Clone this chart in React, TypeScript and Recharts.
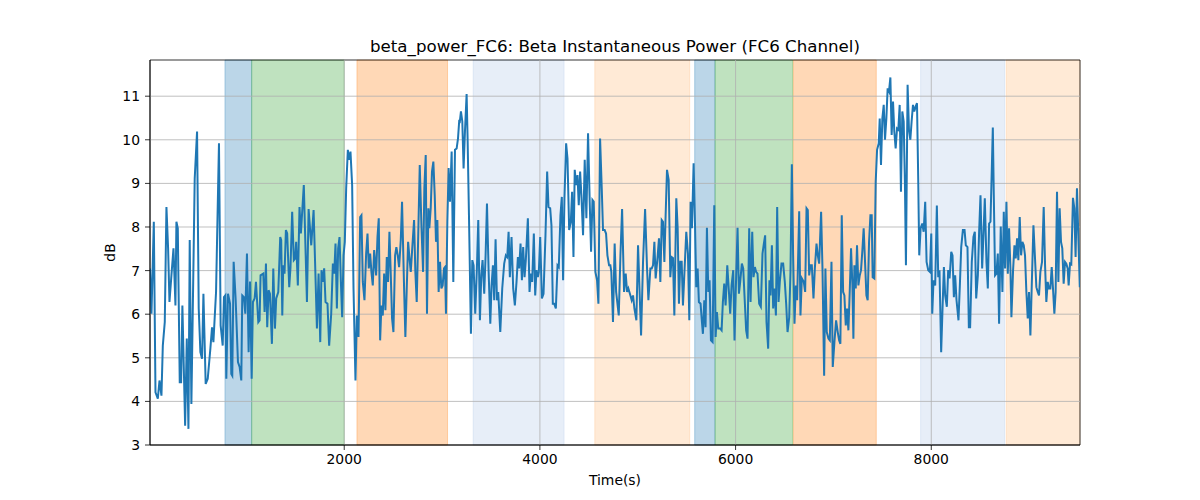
import React from "react";
import {
  LineChart,
  Line,
  XAxis,
  YAxis,
  ReferenceArea,
  ReferenceLine,
} from "recharts";

// Time (s) of each sample, by section
const timesA = [15, 30, 54, 71, 95, 112, 132, 146, 166, 183, 200, 214, 234, 255, 275, 285, 299, 319, 333, 346, 374, 391, 408, 421, 438, 452, 472, 496, 513, 530, 547, 561, 584, 605, 632, 649, 663, 690, 720, 737, 758, 771, 785, 795, 812, 833, 846, 856, 870, 890, 914, 931, 948, 958, 975, 989, 1006, 1023, 1037, 1054, 1067, 1084, 1098, 1122, 1135, 1145, 1173, 1186, 1200, 1213, 1227, 1241, 1261, 1275, 1292, 1305, 1326, 1346, 1356, 1367, 1377, 1390, 1404, 1417, 1438, 1451, 1468, 1485, 1499, 1509, 1526, 1543, 1557, 1587];
const valuesA = [7.05, 6.01, 8.12, 4.21, 4.06, 4.48, 4.13, 5.28, 5.82, 8.46, 7.51, 6.28, 6.89, 7.51, 6.2, 8.12, 7.97, 4.44, 4.44, 6.2, 3.44, 5.44, 3.37, 7.7, 3.94, 6.05, 9.11, 10.19, 6.13, 5.13, 4.98, 6.47, 4.4, 4.52, 5.21, 5.7, 5.36, 6.51, 9.92, 5.74, 5.28, 6.39, 6.43, 4.52, 6.47, 6.24, 4.63, 4.59, 7.2, 6.36, 4.9, 4.79, 4.48, 6.43, 6.39, 6.01, 7.39, 5.13, 6.75, 4.52, 6.28, 6.36, 6.74, 5.82, 5.86, 6.89, 6.93, 6.05, 7.16, 5.7, 6.55, 6.47, 5.32, 7.05, 5.67, 6.36, 6.51, 7.77, 7.7, 5.97, 7.12, 6.93, 7.93, 7.85, 6.62, 7.08, 8.35, 7.24, 7.28, 7.66, 6.66, 8.46, 7.85, 8.96];

const timesB = [1619, 1636, 1663, 1687, 1704, 1721, 1738, 1755, 1768, 1782, 1795, 1809, 1829, 1846, 1867, 1884, 1898, 1911, 1925, 1938, 1952, 1966, 1979, 1993, 2006, 2020, 2037, 2050, 2064, 2081, 2095, 2115, 2129, 2146, 2163, 2176, 2190, 2207, 2224, 2238, 2251, 2265, 2278, 2292, 2306, 2326, 2340, 2353, 2367, 2380, 2394, 2408, 2421, 2435, 2448, 2462, 2476, 2489, 2503, 2520, 2533, 2547, 2561, 2578, 2591, 2612, 2625, 2639, 2653, 2666, 2680, 2693, 2714, 2727, 2741, 2755, 2772, 2789, 2806, 2819, 2833, 2846, 2860, 2870, 2884, 2897, 2911, 2925, 2938, 2952, 2965, 2979, 2993, 3006, 3020, 3030, 3040, 3054, 3067, 3081, 3098, 3115, 3132, 3149, 3163, 3176];
const valuesB = [6.28, 8.41, 7.58, 8.39, 7.05, 5.67, 6.93, 5.36, 7.01, 6.74, 7.05, 6.28, 6.24, 5.28, 6.01, 7.16, 6.93, 7.62, 6.13, 7.51, 7.77, 6.74, 5.93, 7.35, 7.66, 8.89, 9.77, 9.54, 9.73, 8.96, 6.59, 4.48, 5.97, 5.48, 8.23, 8.27, 6.74, 6.32, 7.39, 7.85, 7.05, 7.39, 6.97, 6.66, 7.47, 6.89, 7.77, 8.2, 5.4, 6.2, 5.97, 6.93, 6.09, 7.31, 6.74, 7.89, 6.89, 5.9, 5.59, 7.35, 7.54, 7.35, 7.08, 7.7, 8.58, 6.59, 5.48, 6.59, 7.66, 7.31, 6.97, 7.43, 8.16, 6.97, 6.28, 7.66, 9.42, 8.04, 6.97, 8.89, 9.65, 6.01, 8.43, 7.97, 8.43, 9.27, 9.5, 8.73, 7.66, 8.16, 6.51, 7.2, 6.59, 6.66, 7.05, 7.08, 6.01, 8.12, 9.35, 8.58, 9.73, 6.74, 9.77, 9.8, 10.03, 10.46];

const timesC = [3180, 3193, 3207, 3220, 3234, 3251, 3261, 3275, 3295, 3309, 3322, 3339, 3356, 3370, 3387, 3401, 3414, 3431, 3445, 3459, 3476, 3493, 3506, 3520, 3533, 3547, 3561, 3574, 3595, 3615, 3635, 3652, 3666, 3680, 3693, 3710, 3727, 3744, 3761, 3775, 3788, 3802, 3816, 3829, 3843, 3856, 3877, 3894, 3907, 3921, 3938, 3952, 3965, 3979, 3989, 4003, 4020, 4037, 4057, 4074, 4088, 4105, 4118, 4132, 4146, 4163, 4180, 4193, 4210, 4224, 4237, 4251, 4268, 4282, 4299, 4316, 4329, 4343, 4356, 4370, 4384, 4397, 4411, 4424, 4441, 4458, 4475, 4492, 4509, 4523, 4537, 4550, 4567, 4584, 4598, 4615, 4632, 4645, 4662, 4676, 4690, 4707, 4720, 4730, 4747, 4764];
const valuesC = [10.38, 10.65, 10.42, 9.34, 10.19, 11.05, 10.03, 8.27, 5.55, 7.24, 7.12, 6.01, 7.05, 8.16, 5.86, 6.89, 7.24, 6.47, 7.35, 8.54, 6.97, 5.78, 6.66, 7.12, 6.32, 7.72, 6.32, 6.51, 5.59, 6.59, 7.16, 7.35, 7.31, 7.89, 6.85, 7.77, 6.59, 6.2, 6.74, 7.31, 7.05, 7.62, 6.78, 7.54, 6.85, 7.24, 8.2, 6.51, 6.93, 6.74, 7.85, 6.43, 7.01, 6.85, 6.97, 7.77, 6.36, 6.47, 7.81, 9.27, 8.46, 8.43, 8.04, 6.24, 6.24, 6.13, 7.12, 7.08, 8.27, 8.69, 6.78, 8.66, 9.92, 9.57, 7.93, 8.12, 8.81, 7.31, 9.31, 8.96, 9.19, 8.5, 9.27, 8.73, 7.81, 9.54, 8.2, 10.15, 8.58, 7.43, 8.62, 8.58, 6.97, 6.78, 6.24, 10.03, 8.89, 7.93, 7.93, 7.85, 7.35, 7.12, 7.12, 6.97, 5.82, 7.62];

const timesD = [4779, 4806, 4823, 4840, 4860, 4877, 4891, 4904, 4925, 4938, 4952, 4966, 4986, 5003, 5034, 5054, 5075, 5095, 5109, 5129, 5143, 5156, 5170, 5183, 5204, 5217, 5231, 5245, 5258, 5272, 5285, 5299, 5316, 5333, 5347, 5360, 5374, 5394, 5408, 5421, 5435, 5449, 5462, 5479, 5496, 5513, 5527, 5540, 5554, 5571, 5585, 5598, 5612, 5625, 5642, 5656, 5666, 5680, 5693, 5707, 5721, 5734, 5748, 5765, 5782, 5796, 5809, 5823, 5843, 5857, 5870, 5884, 5898, 5915, 5932, 5945, 5959, 5976, 5989, 6006, 6020, 6034, 6047, 6064, 6078, 6091, 6108, 6122, 6139, 6153, 6170, 6183, 6197, 6210, 6224, 6241, 6258, 6275, 6289, 6302, 6316, 6333, 6346];
const valuesD = [6.51, 5.97, 7.35, 8.41, 6.51, 6.93, 6.51, 6.59, 6.43, 6.32, 6.43, 6.13, 5.86, 7.58, 5.51, 7.2, 8.41, 7.05, 6.32, 7.05, 7.05, 7.12, 7.66, 6.82, 7.35, 7.74, 6.74, 8.16, 8.12, 7.2, 8.27, 9.31, 9.08, 6.85, 7.31, 7.29, 5.97, 8.66, 7.97, 6.24, 7.2, 7.2, 6.2, 7.05, 7.89, 7.39, 5.86, 8.58, 7.97, 9.46, 8.08, 6.62, 7.05, 6.28, 6.24, 5.82, 5.55, 6.32, 5.7, 7.98, 6.51, 6.78, 5.4, 5.36, 8.5, 5.48, 6.05, 5.67, 5.67, 5.63, 6.28, 6.7, 6.2, 7.12, 6.51, 6.01, 6.66, 7.01, 5.4, 6.89, 7.98, 6.47, 6.74, 7.16, 7.05, 6.43, 5.63, 5.44, 7.97, 6.28, 7.89, 6.85, 7.08, 6.97, 6.93, 6.24, 6.17, 7.39, 7.62, 7.81, 5.82, 5.21, 6.78];

const timesE = [6357, 6371, 6384, 6398, 6412, 6425, 6439, 6452, 6469, 6486, 6503, 6517, 6531, 6548, 6561, 6575, 6588, 6602, 6616, 6629, 6650, 6663, 6677, 6697, 6711, 6725, 6738, 6752, 6765, 6779, 6796, 6810, 6827, 6840, 6854, 6874, 6888, 6905, 6918, 6932, 6949, 6963, 6980, 6993, 7010, 7027, 7044, 7058, 7071, 7085, 7099, 7112, 7126, 7139, 7153, 7167, 7180, 7194, 7204, 7214, 7228, 7241, 7255, 7269, 7282, 7296, 7309, 7323, 7337, 7350, 7364, 7378, 7391, 7401, 7418, 7432, 7446, 7463, 7473, 7486, 7500, 7514, 7527, 7541, 7554, 7568, 7582, 7595, 7609, 7622, 7636, 7650, 7663, 7677, 7690, 7704, 7718, 7731, 7741, 7758, 7772, 7786, 7799, 7813, 7826, 7840, 7854, 7867, 7877, 7891, 7908, 7922];
const valuesE = [6.43, 7.58, 6.13, 6.59, 5.97, 8.46, 6.28, 6.74, 7.16, 7.16, 6.74, 6.24, 5.59, 5.93, 6.97, 9.44, 7.35, 5.78, 6.66, 6.32, 8.36, 5.97, 6.82, 6.74, 6.51, 8.43, 8.39, 6.89, 7.12, 7.12, 6.36, 7.05, 7.62, 7.35, 7.16, 8.35, 7.05, 4.59, 7.05, 5.59, 5.44, 5.4, 7.2, 4.79, 5.36, 5.86, 5.59, 5.4, 5.32, 8.27, 6.51, 6.43, 5.74, 6.13, 5.63, 6.55, 7.51, 6.66, 5.44, 7.12, 6.59, 7.58, 6.66, 6.89, 7.01, 7.47, 7.97, 7.2, 6.43, 6.32, 7.66, 8.27, 8.27, 6.85, 6.82, 9.04, 9.77, 9.92, 10.49, 9.42, 10.49, 10.8, 10.0, 10.49, 11.18, 11.11, 11.43, 10.11, 10.88, 10.19, 9.8, 10.26, 10.23, 10.8, 8.81, 10.65, 10.42, 8.96, 7.12, 11.26, 10.23, 10.0, 10.42, 10.8, 10.65, 10.76, 10.84, 9.04, 7.35, 7.97, 8.08, 7.89];

const timesF = [7938, 7952, 7969, 7986, 8000, 8010, 8023, 8040, 8057, 8071, 8084, 8101, 8115, 8129, 8142, 8159, 8173, 8187, 8204, 8217, 8231, 8244, 8258, 8278, 8292, 8306, 8323, 8340, 8353, 8370, 8384, 8397, 8414, 8431, 8445, 8459, 8476, 8489, 8503, 8520, 8533, 8547, 8564, 8578, 8591, 8605, 8618, 8629, 8639, 8652, 8666, 8680, 8693, 8710, 8727, 8741, 8754, 8768, 8782, 8795, 8809, 8819, 8836, 8850, 8863, 8877, 8890, 8904, 8918, 8931, 8945, 8958, 8972, 8986, 8999, 9013, 9027, 9044, 9057, 9074, 9088, 9101, 9115, 9132, 9149, 9163, 9176, 9190, 9203, 9217, 9231, 9244, 9258, 9271, 9285, 9299, 9312, 9326, 9339, 9353, 9367, 9380, 9394, 9404, 9418, 9431, 9448, 9462, 9475, 9489, 9518];
const valuesF = [8.58, 7.2, 7.01, 6.97, 7.85, 6.01, 6.78, 6.66, 8.49, 6.85, 7.01, 5.13, 6.13, 7.08, 6.43, 6.17, 7.01, 6.82, 7.43, 7.35, 6.39, 6.89, 6.32, 5.86, 6.66, 7.54, 7.93, 7.93, 7.58, 7.54, 5.7, 5.7, 7.2, 7.77, 7.89, 6.36, 6.89, 7.89, 8.73, 7.05, 7.81, 8.66, 7.2, 6.59, 8.08, 8.12, 9.27, 10.28, 8.73, 6.89, 6.93, 7.39, 5.78, 8.01, 6.51, 8.35, 7.05, 8.58, 6.93, 7.97, 7.05, 5.93, 7.01, 7.58, 7.28, 7.74, 7.24, 8.23, 7.35, 7.66, 7.58, 7.35, 6.51, 5.9, 6.51, 5.51, 6.66, 8.04, 7.43, 6.62, 6.51, 6.43, 6.97, 7.2, 8.46, 7.12, 6.28, 6.74, 6.59, 6.59, 7.08, 6.59, 6.01, 6.51, 8.81, 6.74, 8.43, 7.66, 7.51, 6.7, 7.2, 7.16, 7.05, 6.66, 7.16, 7.14, 8.67, 8.43, 7.31, 8.89, 6.62];

// Shaded segments: [start, end, colour]
const segStarts = [781, 1054, 2130, 3318, 4561, 5582, 5790, 6590, 7891, 8766];
const segEnds = [1054, 2000, 3056, 4247, 5531, 5790, 6583, 7438, 8749, 9520];
const segColors = ["#1f77b4", "#2ca02c", "#ff7f0e", "#aec7e8", "#ffbb78", "#1f77b4", "#2ca02c", "#ff7f0e", "#aec7e8", "#ffbb78"];

const xTicks = [2000, 4000, 6000, 8000];
const yTicks = [3, 4, 5, 6, 7, 8, 9, 10, 11];
const xDomain = [15, 9520];
const yDomain = [3, 11.83];

const allTimes = [...timesA, ...timesB, ...timesC, ...timesD, ...timesE, ...timesF];
const allValues = [...valuesA, ...valuesB, ...valuesC, ...valuesD, ...valuesE, ...valuesF];
const data = allTimes.map((t, i) => ({ t, v: allValues[i] }));

const FONT = "'DejaVu Sans', sans-serif";
const tickStyle = { fill: "#000", fontSize: 13.9, fontFamily: FONT };

export default function App() {
  return (
    <div style={{ position: "absolute", left: 0, top: 0, width: 1200, height: 500, background: "#fff" }}>
      <LineChart
        width={1200}
        height={500}
        data={data}
        margin={{ top: 60, right: 120, bottom: 0, left: 0 }}
      >
        <XAxis
          dataKey="t"
          type="number"
          domain={xDomain}
          ticks={xTicks}
          allowDataOverflow
          height={55}
          tickSize={5}
          tickMargin={4}
          tick={tickStyle}
          stroke="#000"
          axisLine={{ stroke: "#000", strokeWidth: 0.8 }}
          tickLine={{ stroke: "#000", strokeWidth: 0.8 }}
        />
        <YAxis
          type="number"
          domain={yDomain}
          ticks={yTicks}
          allowDataOverflow
          width={150}
          tickSize={5}
          tickMargin={5}
          tick={tickStyle}
          axisLine={{ stroke: "#000", strokeWidth: 0.8 }}
          tickLine={{ stroke: "#000", strokeWidth: 0.8 }}
        />
        {segStarts.map((s, i) => (
          <ReferenceArea
            key={"seg" + i}
            x1={s}
            x2={segEnds[i]}
            fill={segColors[i]}
            fillOpacity={0.3}
            stroke={segColors[i]}
            strokeOpacity={0.3}
            strokeWidth={1}
          />
        ))}
        {yTicks.slice(1).map((y) => (
          <ReferenceLine key={"gy" + y} y={y} stroke="#b0b0b0" strokeWidth={0.8} />
        ))}
        {xTicks.map((x) => (
          <ReferenceLine key={"gx" + x} x={x} stroke="#b0b0b0" strokeWidth={0.8} />
        ))}
        <Line
          type="linear"
          dataKey="v"
          stroke="#1f77b4"
          strokeWidth={2}
          dot={false}
          isAnimationActive={false}
        />
        <ReferenceArea
          x1={xDomain[0]}
          x2={xDomain[1]}
          y1={yDomain[0]}
          y2={yDomain[1]}
          fill="none"
          stroke="#000"
          strokeWidth={0.8}
        />
      </LineChart>
      <svg
        width={1200}
        height={500}
        style={{ position: "absolute", left: 0, top: 0, pointerEvents: "none" }}
      >
        <text x={615} y={51.7} textAnchor="middle" fontFamily={FONT} fontSize={16.67} fill="#000">
          beta_power_FC6: Beta Instantaneous Power (FC6 Channel)
        </text>
        <text x={615} y={485} textAnchor="middle" fontFamily={FONT} fontSize={13.9} fill="#000">
          Time(s)
        </text>
        <text
          transform="translate(115,252.5) rotate(-90)"
          textAnchor="middle"
          fontFamily={FONT}
          fontSize={13.9}
          fill="#000"
        >
          dB
        </text>
      </svg>
    </div>
  );
}
